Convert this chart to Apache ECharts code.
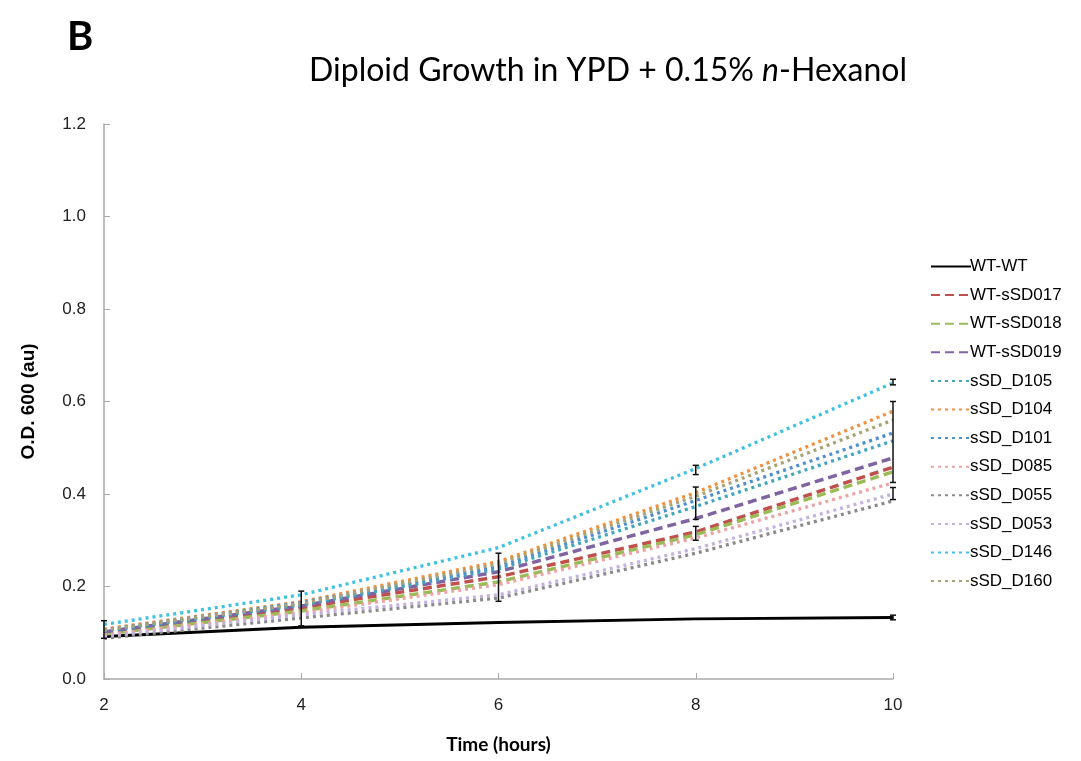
<!DOCTYPE html>
<html>
<head>
<meta charset="utf-8">
<script src="https://cdn.jsdelivr.net/npm/echarts@6/dist/echarts.min.js"></script>
<style>html,body{margin:0;padding:0;background:#fff}#c{width:1081px;height:761px}</style>
</head>
<body>
<div id="c"></div>
<script>
// ---- data ----
const times = [2, 4, 6, 8, 10];
const seriesNames = ['WT-WT','WT-sSD017','WT-sSD018','WT-sSD019','sSD_D105','sSD_D104','sSD_D101','sSD_D085','sSD_D055','sSD_D053','sSD_D146','sSD_D160'];
const wtWT      = [0.092, 0.112, 0.122, 0.130, 0.133];
const wtSSD017  = [0.100, 0.154, 0.221, 0.318, 0.458];
const wtSSD018  = [0.097, 0.147, 0.210, 0.312, 0.448];
const wtSSD019  = [0.102, 0.158, 0.232, 0.347, 0.478];
const sSD_D105  = [0.104, 0.160, 0.238, 0.373, 0.515];
const sSD_D104  = [0.108, 0.167, 0.254, 0.403, 0.579];
const sSD_D101  = [0.106, 0.165, 0.243, 0.386, 0.532];
const sSD_D085  = [0.095, 0.143, 0.204, 0.305, 0.424];
const sSD_D055  = [0.088, 0.132, 0.175, 0.272, 0.385];
const sSD_D053  = [0.092, 0.139, 0.182, 0.282, 0.400];
const sSD_D146  = [0.118, 0.182, 0.284, 0.455, 0.640];
const sSD_D160  = [0.106, 0.163, 0.249, 0.395, 0.560];
// error bars: [time, low, high]
const errorBars = [
  [2, 0.088, 0.126],
  [4, 0.115, 0.190],
  [6, 0.168, 0.272],
  [8, 0.442, 0.462],
  [8, 0.345, 0.415],
  [8, 0.300, 0.330],
  [10, 0.636, 0.648],
  [10, 0.425, 0.600],
  [10, 0.388, 0.414],
  [10, 0.128, 0.138]
];
const yTicks = [0, 0.2, 0.4, 0.6, 0.8, 1.0, 1.2];

const values = [wtWT, wtSSD017, wtSSD018, wtSSD019, sSD_D105, sSD_D104, sSD_D101, sSD_D085, sSD_D055, sSD_D053, sSD_D146, sSD_D160];
const colors = ['#000000','#c0504d','#9bbb59','#8064a2','#3fa6bd','#f0913f','#4f8fd0','#eda3a3','#8a8a8a','#c3b2e0','#3ec2e2','#a9a274'];
const styles = ['solid','dash','dash','dash','dot','dot','dot','dot','dot','dot','dot','dot'];

const series = values.map((v, i) => {
  const st = styles[i];
  return {
    name: seriesNames[i],
    type: 'line',
    symbol: 'none',
    z: 3,
    data: times.map((t, j) => [t, v[j]]),
    lineStyle: {
      color: colors[i],
      width: st === 'solid' ? 3 : (st === 'dash' ? 3.5 : 3.3),
      type: st === 'solid' ? 'solid' : (st === 'dash' ? [9, 5] : [3, 4]),
      cap: 'butt'
    },
    itemStyle: { color: colors[i] }
  };
});

series.push({
  name: 'err',
  type: 'custom',
  z: 4,
  data: errorBars,
  encode: { x: 0, y: [1, 2] },
  renderItem: function (params, api) {
    const x = api.value(0);
    const lo = api.coord([x, api.value(1)]);
    const hi = api.coord([x, api.value(2)]);
    const w = 3;
    return {
      type: 'group',
      children: [
        { type: 'line', shape: { x1: lo[0], y1: lo[1], x2: hi[0], y2: hi[1] }, style: { stroke: '#111', lineWidth: 1.5 } },
        { type: 'line', shape: { x1: lo[0] - w, y1: lo[1], x2: lo[0] + w, y2: lo[1] }, style: { stroke: '#111', lineWidth: 1.5 } },
        { type: 'line', shape: { x1: hi[0] - w, y1: hi[1], x2: hi[0] + w, y2: hi[1] }, style: { stroke: '#111', lineWidth: 1.5 } }
      ]
    };
  }
});

const chart = echarts.init(document.getElementById('c'), null, { renderer: 'canvas' });
chart.setOption({
  backgroundColor: '#ffffff',
  animation: false,
  title: [
    {
      text: 'B',
      left: 62, top: 12,
      textStyle: { fontFamily: 'Lato', fontWeight: 'bold', fontSize: 40, color: '#000' }
    },
    {
      text: '{a|Diploid Growth in YPD + 0.15% }{b|n}{a|-Hexanol}',
      left: 603, top: 50, textAlign: 'center',
      textStyle: {
        fontWeight: 'normal',
        rich: {
          a: { fontFamily: 'Lato', fontSize: 32, fontWeight: 'normal', color: '#000' },
          b: { fontFamily: 'Lato', fontSize: 32, fontWeight: 'normal', fontStyle: 'italic', color: '#000' }
        }
      }
    }
  ],
  legend: {
    data: seriesNames,
    orient: 'vertical',
    left: 925, top: 253,
    itemWidth: 40, itemHeight: 14, itemGap: 11.6,
    itemStyle: { color: 'rgba(0,0,0,0)', borderColor: 'rgba(0,0,0,0)', borderWidth: 0, opacity: 0 },
    textStyle: { fontFamily: 'Liberation Sans', fontSize: 17, color: '#000', padding: [0, 0, 0, -6] }
  },
  grid: { left: 104, right: 188, top: 124, bottom: 82 },
  xAxis: {
    type: 'value', min: 2, max: 10, interval: 2,
    name: 'Time (hours)', nameLocation: 'middle', nameGap: 56,
    nameTextStyle: { fontFamily: 'Lato', fontWeight: 'bold', fontSize: 19, color: '#000' },
    axisLine: { lineStyle: { color: '#aaaaaa', width: 1.5 } },
    axisTick: { inside: true, length: 6, lineStyle: { color: '#aaaaaa' } },
    axisLabel: { fontFamily: 'Liberation Sans', fontSize: 17, color: '#222', margin: 18 },
    splitLine: { show: false }
  },
  yAxis: {
    type: 'value', min: 0, max: 1.2, interval: 0.2,
    name: 'O.D. 600 (au)', nameLocation: 'middle', nameGap: 66,
    nameTextStyle: { fontFamily: 'Liberation Sans', fontWeight: 'bold', fontSize: 19, color: '#000' },
    axisLine: { show: true, lineStyle: { color: '#aaaaaa', width: 1.5 } },
    axisTick: { show: true, inside: true, length: 6, lineStyle: { color: '#aaaaaa' } },
    axisLabel: { fontFamily: 'Liberation Sans', fontSize: 17, color: '#222', margin: 18,
      formatter: v => { const t = yTicks.find(k => Math.abs(k - v) < 1e-9); return (t !== undefined ? t : v).toFixed(1); } },
    splitLine: { show: false }
  },
  series: series
});
</script>
</body>
</html>
